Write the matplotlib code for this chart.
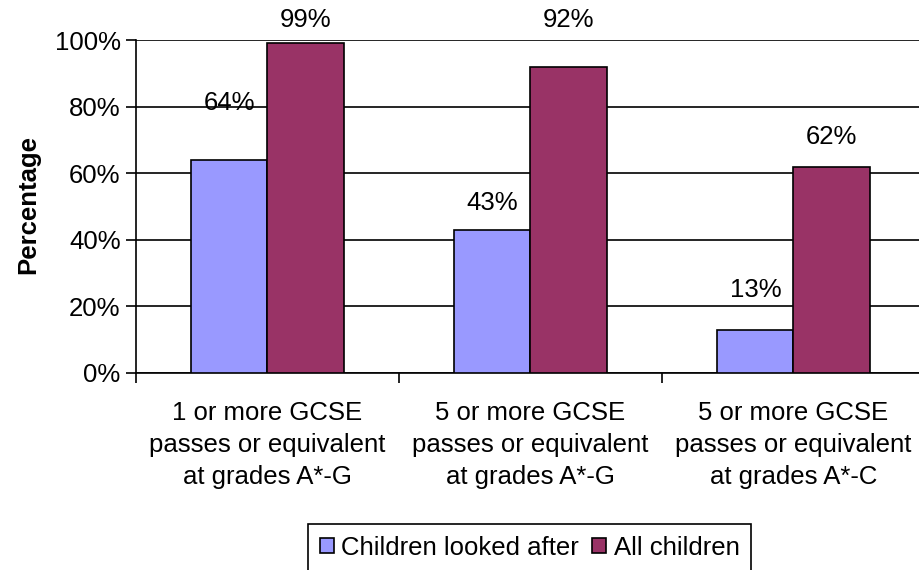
import numpy as np
import matplotlib
matplotlib.use("Agg")
import matplotlib.pyplot as plt
from matplotlib.ticker import FuncFormatter

plt.rcParams['font.family'] = ['Liberation Sans', 'DejaVu Sans']

categories = ["1 or more GCSE\npasses or equivalent\nat grades A*-G",
              "5 or more GCSE\npasses or equivalent\nat grades A*-G",
              "5 or more GCSE\npasses or equivalent\nat grades A*-C"]
looked_after = [64, 43, 13]
all_children = [99, 92, 62]
series_names = ["Children looked after", "All children"]

# where the value labels sit (in % units), as in the original
label_y_looked = [81, 51, 25]
label_y_all = [106, 106, 71]

fs = 18.5

fig = plt.figure(figsize=(9.2, 5.7), dpi=100)
ax = fig.add_axes([136/920, 1-373/570, 789/920, 333/570])

x = np.arange(len(categories)) + 0.5
w = 0.29
ax.bar(x - w/2, looked_after, w, color='#9999FF', edgecolor='black', linewidth=1.2, label=series_names[0], zorder=3)
ax.bar(x + w/2, all_children, w, color='#993366', edgecolor='black', linewidth=1.2, label=series_names[1], zorder=3)

for i in range(len(categories)):
    ax.text(x[i] - w/2, label_y_looked[i], "%d%%" % looked_after[i], ha='center', va='center', fontsize=fs, clip_on=False)
    ax.text(x[i] + w/2, label_y_all[i], "%d%%" % all_children[i], ha='center', va='center', fontsize=fs, clip_on=False)

ax.set_xlim(0, 3)
ax.set_ylim(0, 100)
ax.set_yticks([0, 20, 40, 60, 80, 100])
ax.yaxis.set_major_formatter(FuncFormatter(lambda v, p: "%d%%" % v))
ax.set_xticks([0, 1, 2, 3])
ax.set_xticklabels([])
ax.tick_params(axis='both', direction='out', length=7, width=1.2, labelsize=fs, colors='black')
ax.tick_params(axis='y', pad=4)
ax.grid(axis='y', color='black', linewidth=1.2, zorder=0)
for s in ['top', 'right']:
    ax.spines[s].set_visible(False)
ax.spines['left'].set_linewidth(1.2)
ax.spines['bottom'].set_linewidth(1.2)

for i, c in enumerate(categories):
    ax.text(x[i], -8.5, c, ha='center', va='top', fontsize=fs, linespacing=1.42, clip_on=False)

fig.text(28/920, 1-205/570, "Percentage", rotation=90, ha='center', va='center', fontsize=fs, fontweight='bold')

leg = fig.legend(loc='upper left', bbox_to_anchor=(308/920, 1-524/570), ncol=2, fontsize=fs,
                 frameon=True, fancybox=False, edgecolor='black', framealpha=1,
                 handlelength=0.55, handleheight=0.55, handletextpad=0.3, columnspacing=0.5,
                 borderpad=0.45, borderaxespad=0)
leg.get_frame().set_linewidth(1.2)

fig.savefig("out.png", dpi=100)
